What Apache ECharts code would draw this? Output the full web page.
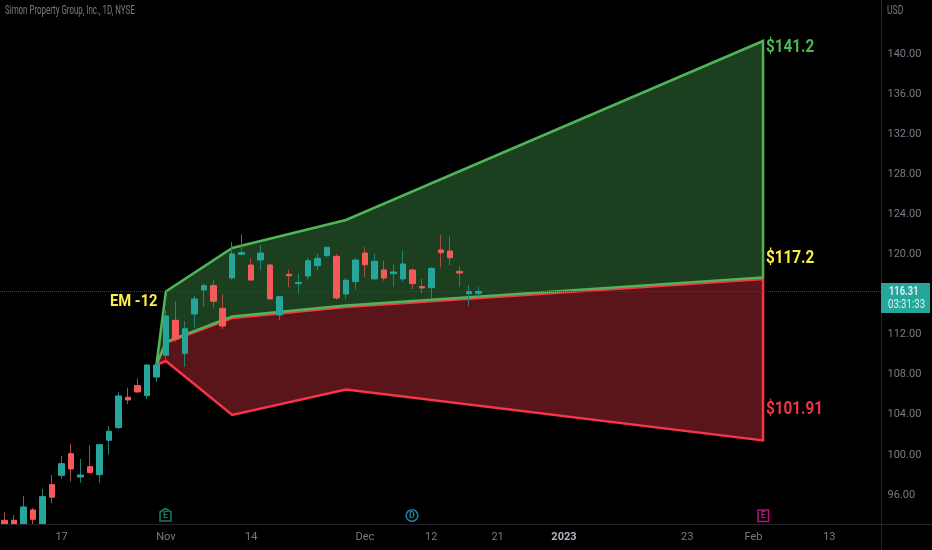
<!DOCTYPE html>
<html>
<head>
<meta charset="utf-8">
<style>html,body{margin:0;padding:0;background:#000}#c{width:932px;height:550px}</style>
<script src="https://cdn.jsdelivr.net/npm/echarts@6/dist/echarts.min.js"></script>
</head>
<body>
<div id="c"></div>
<script>
const categories = [
"2022-10-07","2022-10-10","2022-10-11","2022-10-12","2022-10-13","2022-10-14","2022-10-17","2022-10-18","2022-10-19","2022-10-20",
"2022-10-21","2022-10-24","2022-10-25","2022-10-26","2022-10-27","2022-10-28","2022-10-31","2022-11-01","2022-11-02","2022-11-03",
"2022-11-04","2022-11-07","2022-11-08","2022-11-09","2022-11-10","2022-11-11","2022-11-14","2022-11-15","2022-11-16","2022-11-17",
"2022-11-18","2022-11-21","2022-11-22","2022-11-23","2022-11-25","2022-11-28","2022-11-29","2022-11-30","2022-12-01","2022-12-02",
"2022-12-05","2022-12-06","2022-12-07","2022-12-08","2022-12-09","2022-12-12","2022-12-13","2022-12-14","2022-12-15","2022-12-16",
"2022-12-19","2022-12-20","2022-12-21","2022-12-22","2022-12-23","2022-12-27","2022-12-28","2022-12-29","2022-12-30","2023-01-03",
"2023-01-04","2023-01-05","2023-01-06","2023-01-09","2023-01-10","2023-01-11","2023-01-12","2023-01-13","2023-01-17","2023-01-18",
"2023-01-19","2023-01-20","2023-01-23","2023-01-24","2023-01-25","2023-01-26","2023-01-27","2023-01-30","2023-01-31","2023-02-01",
"2023-02-02","2023-02-03","2023-02-06","2023-02-07","2023-02-08","2023-02-09","2023-02-10","2023-02-13","2023-02-14","2023-02-15",
"2023-02-16","2023-02-17","2023-02-21"];

const xTickDates  = ["2022-10-17","2022-11-01","2022-11-14","2022-12-01","2022-12-12","2022-12-21","2023-01-03","2023-01-23","2023-02-01","2023-02-13"];
const xTickLabels = ["17","Nov","14","Dec","12","21","2023","23","Feb","13"];
const yTicks = [96,100,104,108,112,116,120,124,128,132,136,140];

// [open, close, low, high]; the first bars are cut off by the bottom of the pane
const candles = [
[93.46,93.05,93.05,94.26],[93.46,93.05,93.05,93.99],[93.05,94.79,93.05,95.89],[94.49,93.56,93.05,94.69],[93.05,95.82,93.05,96.59],
[97.02,95.76,95.16,97.98],[97.95,99.11,97.58,99.88],[100.11,98.58,97.32,101.08],[97.78,97.98,97.21,99.58],[98.81,98.21,98.15,100.95],
[98.01,101.01,97.21,101.05],[101.45,102.35,100.01,102.87],[102.71,105.87,102.58,106.24],[105.74,105.47,105.07,106.70],[106.90,106.27,106.24,107.63],
[105.90,108.96,105.57,109.03],[107.76,108.96,107.30,109.26],[109.93,113.85,109.29,114.45],[113.42,111.56,111.29,115.35],[110.13,112.58,108.79,113.35],
[114.05,115.55,112.63,115.85],[116.45,116.88,114.78,117.12],[116.88,115.32,114.68,117.48],[114.62,112.85,112.55,116.02],[117.65,120.04,117.48,121.24],
[120.01,120.17,119.94,122.01],[118.94,117.44,117.41,119.61],[119.44,120.14,118.44,120.94],[118.94,115.55,115.5,119.01],[113.95,115.78,113.45,115.88],
[118.01,117.87,116.72,118.44],[117.08,117.18,116.05,118.11],[117.84,119.37,117.52,119.64],[118.87,119.61,118.41,120.11],[119.87,120.71,119.71,120.75],
[119.81,115.65,115.45,120.04],[116.05,117.42,115.55,117.68],[117.28,119.44,116.45,119.61],[120.14,118.97,117.75,120.77],[117.55,119.31,117.5,120.04],
[118.44,117.64,117.37,119.37],[118.07,118.24,116.78,119.01],[117.55,119.04,117.28,120.34],[118.44,117.08,116.55,118.61],[116.78,116.65,116.12,117.55],
[116.68,118.61,115.62,118.71],[120.44,120.17,118.71,121.94],[120.34,119.67,118.94,121.77],[118.31,118.14,116.78,118.81],[116.08,116.28,114.85,116.95],
[116.12,116.31,115.78,116.78]];

const lastPrice = 116.31;
const bandIndex  = [16,17,24,36,80];
const greenUpper = [108.96,116.30,120.64,123.43,141.3];
const greenLower = [108.96,111.26,113.80,114.90,117.70];
const redUpper   = [108.96,111.16,113.65,114.75,117.55];
const redLower   = [108.96,109.36,103.97,106.52,101.43];

const FONT = 'Roboto,"Liberation Sans",sans-serif';
const GREY = '#787b86';
const AXIS = '#22232b';

function band(upper, lower, stroke, fill, z) {
  return {
    type: 'custom',
    z: z,
    silent: true,
    data: [[bandIndex[0], upper[0]]],
    renderItem: function (params, api) {
      const top = upper.map((v, k) => api.coord([bandIndex[k], v]));
      const bottom = lower.map((v, k) => api.coord([bandIndex[k], v])).reverse();
      return {
        type: 'polygon',
        shape: { points: top.concat(bottom) },
        style: { fill: fill, stroke: stroke, lineWidth: 2.5, lineJoin: 'miter' }
      };
    }
  };
}

function text(x, y, str, color, size, weight, sx, align) {
  return { type: 'text', x: x, y: y, scaleX: sx || 1, silent: true, z: 100,
    style: { text: str, fill: color, font: (weight || 'normal') + ' ' + size + 'px ' + FONT,
      textAlign: align || 'left', textVerticalAlign: 'middle' } };
}

const chart = echarts.init(document.getElementById('c'), null, { renderer: 'canvas' });
chart.setOption({
  animation: false,
  backgroundColor: '#000000',
  grid: { left: -1, top: 0, width: 882.5, height: 524.5, containLabel: false },
  xAxis: {
    type: 'category',
    data: categories,
    boundaryGap: true,
    axisLine: { show: false },
    axisTick: { show: false },
    splitLine: { show: false },
    axisLabel: {
      interval: (i, v) => xTickDates.indexOf(v) >= 0,
      margin: 7,
      hideOverlap: false,
      fontFamily: FONT,
      fontSize: 11,
      color: GREY,
      formatter: v => {
        const l = xTickLabels[xTickDates.indexOf(v)];
        return l === '2023' ? '{b|' + l + '}' : l;
      },
      rich: { b: { fontFamily: FONT, fontSize: 11, fontWeight: 'bold', color: '#b2b5be' } }
    }
  },
  yAxis: {
    type: 'value',
    position: 'right',
    min: 93.04,
    max: 145.39,
    scale: true,
    axisLine: { show: false },
    axisTick: { show: false },
    splitLine: { show: false },
    axisLabel: {
      customValues: yTicks,
      margin: 6,
      padding: [2, 0, 0, 0],
      fontFamily: FONT,
      fontSize: 11,
      color: GREY,
      formatter: v => Number(v).toFixed(2)
    }
  },
  series: [
    band(redUpper, redLower, '#f7344a', '#5a151b', 2),
    band(greenUpper, greenLower, '#4fb558', '#1c401f', 3),
    {
      type: 'candlestick',
      name: 'wicks',
      z: 5,
      silent: true,
      data: candles,
      barWidth: 1,
      itemStyle: {
        color: '#1f8379', color0: '#a84a48',
        borderColor: '#1f8379', borderColor0: '#a84a48',
        borderWidth: 1
      },
      markLine: {
        silent: true, symbol: 'none', animation: false,
        label: { show: false },
        lineStyle: { color: '#1d4f49', type: 'dotted', width: 1 },
        data: [{ yAxis: lastPrice }]
      }
    },
    {
      type: 'candlestick',
      name: 'bodies',
      z: 6,
      silent: true,
      data: candles.map(c => [c[0], c[1], Math.min(c[0], c[1]), Math.max(c[0], c[1])]),
      barWidth: 6,
      itemStyle: {
        color: '#26a69a', color0: '#f55a58',
        borderColor: '#26a69a', borderColor0: '#f55a58',
        borderWidth: 1
      }
    }
  ],
  graphic: [
    { type: 'line', silent: true, z: 50, shape: { x1: 0, y1: 524.5, x2: 932, y2: 524.5 }, style: { stroke: AXIS, lineWidth: 1 } },
    { type: 'line', silent: true, z: 50, shape: { x1: 881.5, y1: 0, x2: 881.5, y2: 550 }, style: { stroke: AXIS, lineWidth: 1 } },
    text(5, 11, 'Simon Property Group, Inc., 1D, NYSE', GREY, 12, 'normal', 0.66),
    text(887, 11, 'USD', GREY, 12, 'normal', 0.72),
    { type: 'rect', silent: true, z: 60, shape: { x: 881, y: 283, width: 49, height: 30 }, style: { fill: '#26a69a' } },
    text(889, 292, '116.31', '#d8f0ec', 12, 'bold', 0.78),
    text(888, 305, '03:31:33', '#d8f0ec', 12, 'normal', 0.8),
    text(766, 47, '$141.2', '#4cba54', 18, 'bold', 0.85),
    text(766, 258, '$117.2', '#ffee44', 18, 'bold', 0.85),
    text(766, 409, '$101.91', '#f23645', 18, 'bold', 0.85),
    text(110, 302, 'EM -12', '#ffee44', 16, 'bold', 0.92),
    { type: 'polygon', silent: true, z: 60,
      shape: { points: [[160,521],[160,512],[165.5,508.5],[171,512],[171,521]] },
      style: { fill: 'transparent', stroke: '#177a6d', lineWidth: 1.5 } },
    text(165.5, 515.5, 'E', '#177a6d', 9, 'bold', 1, 'center'),
    { type: 'circle', silent: true, z: 60, shape: { cx: 412, cy: 515.5, r: 5.8 },
      style: { fill: 'transparent', stroke: '#1a7f9c', lineWidth: 1.5 } },
    text(412, 515.5, 'D', '#1a7f9c', 9, 'bold', 1, 'center'),
    { type: 'rect', silent: true, z: 60, shape: { x: 758, y: 510, width: 10.5, height: 11.5 },
      style: { fill: 'transparent', stroke: '#b5127f', lineWidth: 1.5 } },
    text(763.3, 516, 'E', '#b5127f', 9, 'bold', 1, 'center')
  ]
});
</script>
</body>
</html>
